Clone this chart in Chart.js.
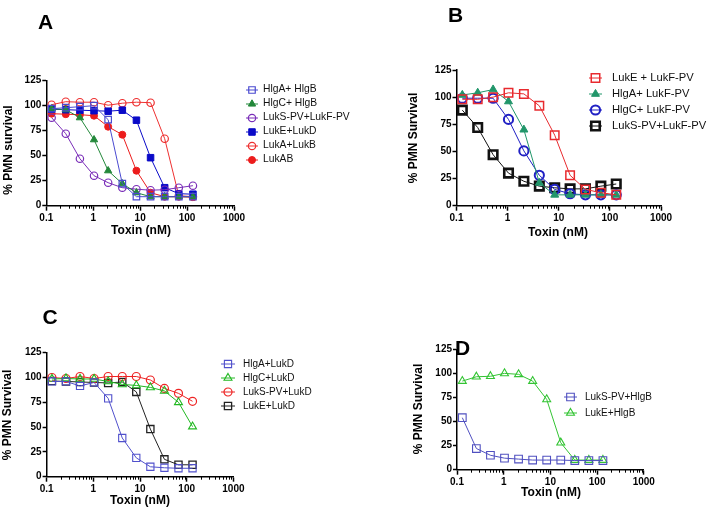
<!DOCTYPE html>
<html><head><meta charset="utf-8">
<script src="https://cdn.jsdelivr.net/npm/chart.js@4.4.1/dist/chart.umd.min.js"></script>
<style>
html,body{margin:0;padding:0;background:#fff;width:707px;height:507px;overflow:hidden;font-family:"Liberation Sans",Arial,sans-serif;}
canvas{position:absolute;}
.t{position:absolute;white-space:nowrap;color:#000;line-height:1;}
.letter{font-weight:bold;font-size:21px;transform:translate(-50%,-50%);}
.ytitle{font-weight:bold;font-size:12px;font-family:"Liberation Sans Narrow","Liberation Sans",Arial,sans-serif;transform:translate(-50%,-50%) rotate(-90deg);}
.xtitle{font-weight:bold;font-size:12px;font-family:"Liberation Sans Narrow","Liberation Sans",Arial,sans-serif;transform:translate(-50%,-50%);}
.legtxt{position:absolute;white-space:nowrap;color:#111;}
</style></head><body>
<script>
// ---------- shared data ----------
const dose = [0.13, 0.26, 0.52, 1.04, 2.08, 4.17, 8.33, 16.67, 33.33, 66.67, 133.33];
const xTickValues = [0.1, 1, 10, 100, 1000];
const yTickValues = [0, 25, 50, 75, 100, 125];

// ---------- panel A ----------
const labelsA = ["HlgA+ HlgB", "HlgC+ HlgB", "LukS-PV+LukF-PV", "LukE+LukD", "LukA+LukB", "LukAB"];
const hlgA_hlgB = [97, 98, 99, 100, 86, 22, 9, 9, 9, 9, 9];
const hlgC_hlgB = [97, 96, 88, 66, 35, 22, 13, 9, 9, 9, 9];
const lukSPV_lukFPV_A = [88, 72, 47, 30, 23, 18, 16.5, 15.5, 16, 18, 20];
const lukE_lukD_A = [96.5, 96, 95.5, 95, 94.5, 95.5, 85.5, 48, 18, 12, 11.5];
const lukA_lukB = [101, 104, 103.5, 103.5, 100.5, 102.5, 103.5, 103, 67, 10, 9];
const lukAB = [92, 91.5, 91, 90, 79, 71, 35, 13, 9, 9, 8.5];

// ---------- panel B ----------
const labelsB = ["LukE + LukF-PV", "HlgA+ LukF-PV", "HlgC+ LukF-PV", "LukS-PV+LukF-PV"];
const lukE_lukFPV = [98, 98, 100, 104, 103, 92, 65, 28, 15, 12, 10];
const hlgA_lukFPV = [102, 104, 107, 96, 70, 21, 10, 10, 10, 10, 10];
const hlgC_lukFPV = [99, 99, 99, 79.5, 50.5, 28, 15, 11, 10, 10, 10];
const lukSPV_lukFPV_B = [88, 72, 47, 30, 22.5, 18, 16.5, 15.5, 15.5, 18, 20];

// ---------- panel C ----------
const labelsC = ["HlgA+LukD", "HlgC+LukD", "LukS-PV+LukD", "LukE+LukD"];
const hlgA_lukD = [96, 96, 91.5, 95, 79, 39, 19, 10, 9, 8.5, 8.5];
const hlgC_lukD = [98.5, 99, 98.5, 98.5, 96, 93, 92, 90, 86.5, 75, 50.5];
const lukSPV_lukD = [100, 99, 101, 99, 101, 101, 101, 97.5, 89, 84, 76];
const lukE_lukD_C = [96.5, 96, 95.5, 95, 94.5, 95.5, 85.5, 48, 17.5, 12, 12];

// ---------- panel D ----------
const labelsD = ["LukS-PV+HlgB", "LukE+HlgB"];
const lukSPV_hlgB = [54, 22, 15, 12, 11, 10, 10, 10, 9.5, 9.5, 9.5];
const lukE_hlgB = [92, 96.5, 97, 100, 99, 92, 73, 28, 10, 10, 10];

// ---------- helpers ----------
const TICK_FONT = {family: '"Liberation Sans Narrow","Liberation Sans",Arial,sans-serif', size: 10, weight: 'bold'};

const minorTicks = {
  id: 'minorTicks',
  afterDraw(chart) {
    const x = chart.scales.x, ctx = chart.ctx, b = chart.chartArea.bottom;
    ctx.save();
    ctx.strokeStyle = '#000';
    ctx.lineWidth = 1;
    ctx.beginPath();
    for (let i = 0; i < xTickValues.length - 1; i++) {
      for (let m = 2; m <= 9; m++) {
        const px = Math.round(x.getPixelForValue(xTickValues[i] * m)) + 0.5;
        ctx.moveTo(px, b);
        ctx.lineTo(px, b + 3);
      }
    }
    ctx.stroke();
    ctx.restore();
  }
};

function drawMarker(ctx, style, x, y, r, color, fill, bw) {
  ctx.beginPath();
  if (style === 'rect') {
    const s = Math.SQRT1_2 * r;
    ctx.rect(x - s, y - s, 2 * s, 2 * s);
  } else if (style === 'circle') {
    ctx.arc(x, y, r, 0, Math.PI * 2);
  } else if (style === 'triangle') {
    let a = 0;
    ctx.moveTo(x + Math.sin(a) * r, y - Math.cos(a) * r);
    a += 2 * Math.PI / 3;
    ctx.lineTo(x + Math.sin(a) * r, y - Math.cos(a) * r);
    a += 2 * Math.PI / 3;
    ctx.lineTo(x + Math.sin(a) * r, y - Math.cos(a) * r);
    ctx.closePath();
  }
  if (fill) { ctx.fillStyle = color; ctx.fill(); }
  ctx.lineWidth = bw; ctx.strokeStyle = color; ctx.stroke();
}

function makePanel(p) {
  const [cx, cy, cw, ch] = p.box;
  const [L, T, R, B] = p.plot;
  const W = 30, H = 20;
  const c = document.createElement('canvas');
  c.width = cw; c.height = ch;
  c.style.left = cx + 'px'; c.style.top = cy + 'px';
  c.style.width = cw + 'px'; c.style.height = ch + 'px';
  document.body.appendChild(c);

  const datasets = p.series.map(s => ({
    label: s.label,
    data: dose.map((d, i) => ({x: d, y: s.values[i]})),
    borderColor: s.color,
    backgroundColor: s.color,
    borderWidth: 1,
    pointStyle: s.style,
    pointRadius: s.r,
    pointBorderWidth: s.bw,
    pointBorderColor: s.color,
    pointBackgroundColor: s.fill ? s.color : 'rgba(0,0,0,0)',
    tension: 0,
    fill: false
  }));

  new Chart(c, {
    type: 'line',
    data: {datasets},
    options: {
      responsive: false, animation: false, devicePixelRatio: 1,
      layout: {padding: {left: L - cx - W, top: T - cy, right: cx + cw - R, bottom: cy + ch - B - H}},
      plugins: {legend: {display: false}, tooltip: {enabled: false}, title: {display: false}},
      scales: {
        x: {
          type: 'logarithmic', min: 0.1, max: 1000,
          afterBuildTicks: s => { s.ticks = xTickValues.map(v => ({value: v, major: true})); },
          afterFit: s => { s.height = H; },
          ticks: {autoSkip: false, maxRotation: 0, minRotation: 0, padding: 2, color: '#000', font: TICK_FONT,
                  callback: v => String(v)},
          grid: {display: true, drawOnChartArea: false, drawTicks: true, tickLength: 5, tickWidth: 1.5, tickColor: '#000'},
          border: {display: true, color: '#000', width: 1.5}
        },
        y: {
          min: 0, max: 125,
          afterBuildTicks: s => { s.ticks = yTickValues.map(v => ({value: v})); },
          afterFit: s => { s.width = W; },
          ticks: {padding: 1, color: '#000', font: TICK_FONT, callback: v => String(v)},
          grid: {display: true, drawOnChartArea: false, drawTicks: true, tickLength: 4, tickWidth: 1.5, tickColor: '#000'},
          border: {display: true, color: '#000', width: 1.5}
        }
      }
    },
    plugins: [minorTicks]
  });

  // panel letter
  const lt = document.createElement('div');
  lt.className = 't letter'; lt.textContent = p.letter.text;
  lt.style.left = p.letter.x + 'px'; lt.style.top = p.letter.y + 'px';
  document.body.appendChild(lt);
  // axis titles
  const yt = document.createElement('div');
  yt.className = 't ytitle'; yt.textContent = p.ytitle.text;
  yt.style.left = p.ytitle.x + 'px'; yt.style.top = p.ytitle.y + 'px';
  document.body.appendChild(yt);
  const xt = document.createElement('div');
  xt.className = 't xtitle'; xt.textContent = 'Toxin (nM)';
  xt.style.left = p.xtitle.x + 'px'; xt.style.top = p.xtitle.y + 'px';
  document.body.appendChild(xt);

  // legend
  const lg = p.legend;
  p.series.forEach((s, i) => {
    const y = lg.y0 + i * lg.dy;
    const ic = document.createElement('canvas');
    const iw = 2 * lg.half + 4, ih = 16;
    ic.width = iw; ic.height = ih;
    ic.style.left = (lg.mx - iw / 2) + 'px'; ic.style.top = (y - ih / 2) + 'px';
    document.body.appendChild(ic);
    const g = ic.getContext('2d');
    g.strokeStyle = s.color; g.lineWidth = 1;
    g.beginPath(); g.moveTo(iw / 2 - lg.half, ih / 2); g.lineTo(iw / 2 + lg.half, ih / 2); g.stroke();
    drawMarker(g, s.style, iw / 2, ih / 2, s.r * lg.scale, s.color, s.fill, s.bw);
    const tx = document.createElement('div');
    tx.className = 'legtxt'; tx.textContent = s.label;
    tx.style.fontSize = lg.fs + 'px';
    tx.style.lineHeight = (lg.fs * 1.2) + 'px';
    tx.style.left = lg.tx + 'px'; tx.style.top = (y - lg.fs * 0.6) + 'px';
    document.body.appendChild(tx);
  });
}

// ---------- panels ----------
makePanel({
  box: [0, 0, 353, 253], plot: [46.3, 80.7, 234, 205.7],
  letter: {text: 'A', x: 45.5, y: 20.5},
  ytitle: {text: '% PMN survival', x: 8, y: 150},
  xtitle: {x: 141, y: 230},
  legend: {mx: 251.7, half: 6, tx: 263, y0: 89.5, dy: 14, fs: 10.3, scale: 1},
  series: [
    {label: labelsA[0], values: hlgA_hlgB, color: '#4a4ad0', style: 'rect', r: 4.6, fill: false, bw: 1.2},
    {label: labelsA[1], values: hlgC_hlgB, color: '#23883a', style: 'triangle', r: 4.2, fill: true, bw: 1},
    {label: labelsA[2], values: lukSPV_lukFPV_A, color: '#7a2eb8', style: 'circle', r: 3.7, fill: false, bw: 1.2},
    {label: labelsA[3], values: lukE_lukD_A, color: '#0a0ac8', style: 'rect', r: 4.6, fill: true, bw: 1},
    {label: labelsA[4], values: lukA_lukB, color: '#ee3030', style: 'circle', r: 3.7, fill: false, bw: 1.2},
    {label: labelsA[5], values: lukAB, color: '#ec1c1c', style: 'circle', r: 3.5, fill: true, bw: 1}
  ]
});

makePanel({
  box: [353, 0, 354, 253], plot: [456.5, 70, 661, 205.7],
  letter: {text: 'B', x: 455.5, y: 13.5},
  ytitle: {text: '% PMN Survival', x: 412.5, y: 138},
  xtitle: {x: 558, y: 232},
  legend: {mx: 595, half: 6.5, tx: 612, y0: 78, dy: 16, fs: 11.2, scale: 1},
  series: [
    {label: labelsB[0], values: lukE_lukFPV, color: '#e82a2e', style: 'rect', r: 6, fill: false, bw: 1.5},
    {label: labelsB[1], values: hlgA_lukFPV, color: '#21966a', style: 'triangle', r: 4.6, fill: true, bw: 1},
    {label: labelsB[2], values: hlgC_lukFPV, color: '#2020c4', style: 'circle', r: 4.6, fill: false, bw: 2},
    {label: labelsB[3], values: lukSPV_lukFPV_B, color: '#111111', style: 'rect', r: 6, fill: false, bw: 2.6}
  ]
});

makePanel({
  box: [0, 253, 353, 254], plot: [46.6, 352.7, 233.4, 476.7],
  letter: {text: 'C', x: 50, y: 316},
  ytitle: {text: '% PMN Survival', x: 7, y: 415},
  xtitle: {x: 140, y: 500},
  legend: {mx: 228.3, half: 7, tx: 243, y0: 363.5, dy: 14, fs: 10, scale: 1},
  series: [
    {label: labelsC[0], values: hlgA_lukD, color: '#5050cc', style: 'rect', r: 5.1, fill: false, bw: 1.1},
    {label: labelsC[1], values: hlgC_lukD, color: '#22b822', style: 'triangle', r: 4.6, fill: false, bw: 1.1},
    {label: labelsC[2], values: lukSPV_lukD, color: '#ee2424', style: 'circle', r: 4, fill: false, bw: 1.2},
    {label: labelsC[3], values: lukE_lukD_C, color: '#222222', style: 'rect', r: 5.1, fill: false, bw: 1.3}
  ]
});

makePanel({
  box: [353, 253, 354, 254], plot: [457, 349.3, 643.8, 469.7],
  letter: {text: 'D', x: 462.5, y: 346.5},
  ytitle: {text: '% PMN Survival', x: 417.5, y: 409},
  xtitle: {x: 551, y: 492},
  legend: {mx: 570.7, half: 6.5, tx: 585, y0: 397.3, dy: 16, fs: 10, scale: 1},
  series: [
    {label: labelsD[0], values: lukSPV_hlgB, color: '#5050c0', style: 'rect', r: 5.4, fill: false, bw: 1.1},
    {label: labelsD[1], values: lukE_hlgB, color: '#33c433', style: 'triangle', r: 4.6, fill: false, bw: 1.1}
  ]
});
</script>
</body></html>
